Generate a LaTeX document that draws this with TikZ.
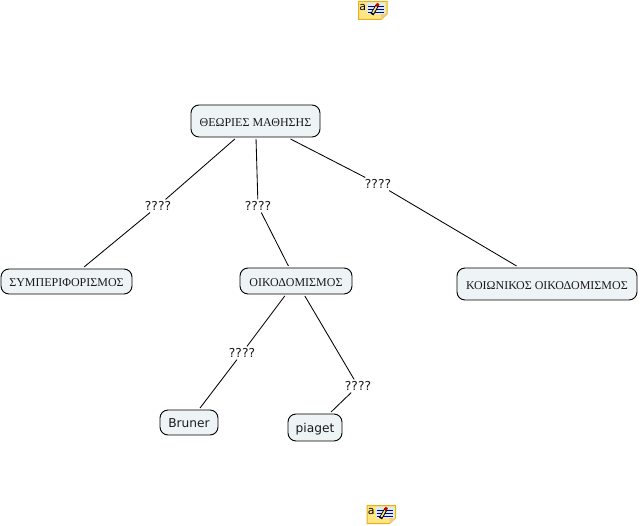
\documentclass[tikz,border=0pt]{standalone}
\usepackage{fontspec}
\setmainfont{Liberation Serif}
\newfontfamily\lblfont{DejaVu Sans}
\definecolor{conceptfill}{HTML}{EEF4F6}
\definecolor{noteyellow}{HTML}{FFE680}
\definecolor{noteedge}{HTML}{E8B020}
\definecolor{noteblue}{HTML}{D8ECFA}
\definecolor{linetxt}{HTML}{1A1A1A}
\tikzset{
  concept/.style={draw=black,line width=0.9pt,fill=conceptfill,rounded corners=8pt,inner sep=0pt,minimum height=26pt,text=linetxt,font=\fontsize{12}{14}\selectfont,outer sep=2pt,text height=11pt,text depth=0pt},
  person/.style={concept,font=\lblfont\fontsize{12.2}{14}\selectfont,text height=11.5pt,text depth=1.5pt},
  linker/.style={font=\lblfont\fontsize{12.3}{14}\selectfont,inner sep=1pt,outer sep=1pt,text=linetxt},
  conn/.style={line width=0.85pt,draw=black},
  pics/noteicon/.style={code={
    \fill[noteyellow,draw=noteedge,line width=1pt] (0.5,0.5) -- (29,0.5) -- (29,13) -- (23,18.5) -- (0.5,18.5) -- cycle;
    \fill[noteedge!60!white] (23,18.5) -- (23,13) -- (29,13) -- cycle;
    \fill[noteblue] (9,2) rectangle (27,13);
    \foreach \yy in {5,8,11}{\draw[blue!60!black,line width=0.5pt] (10,\yy) -- (26,\yy);}
    \draw[black,line width=3.4pt] (14,13.5) -- (19.5,4);
    \draw[noteyellow,line width=1.6pt] (14.8,12) -- (18.5,5.5);
    \draw[red!80!black,line width=2.8pt] (18.8,5) -- (20.3,2.5);
    \node[inner sep=0pt,font=\lblfont\fontsize{11}{12}\selectfont] at (4.8,6.2) {a};
  }}
}
\begin{document}
\begin{tikzpicture}[x=1pt,y=-1pt]
\useasboundingbox (0,0) rectangle (640,526);
\fill[white] (0,0) rectangle (640,526);
\node[concept,minimum width=129pt,minimum height=32pt] (theories) at (255.5,121) {ΘΕΩΡΙΕΣ ΜΑΘΗΣΗΣ};
\node[concept,minimum width=131pt,minimum height=25pt] (behav) at (66.5,281.5) {ΣΥΜΠΕΡΙΦΟΡΙΣΜΟΣ};
\node[concept,minimum width=112pt,minimum height=26pt] (constr) at (296,281) {ΟΙΚΟΔΟΜΙΣΜΟΣ};
\node[concept,minimum width=180pt,minimum height=32pt] (social) at (547,284) {ΚΟΙΩΝΙΚΟΣ ΟΙΚΟΔΟΜΙΣΜΟΣ};
\node[person,minimum width=58pt,minimum height=25pt] (bruner) at (189,422.5) {Bruner};
\node[person,minimum width=54pt,minimum height=27pt] (piaget) at (315,427.5) {piaget};
\node[linker] (l1) at (158,206) {????};
\node[linker] (l2) at (258,206) {????};
\node[linker] (l3) at (378,184) {????};
\node[linker] (l4) at (242,353) {????};
\node[linker] (l5) at (358,386) {????};
\draw[conn] (theories) -- (l1);
\draw[conn] (l1) -- (behav);
\draw[conn] (theories) -- (l2);
\draw[conn] (l2) -- (constr);
\draw[conn] (theories) -- (l3);
\draw[conn] (l3) -- (social);
\draw[conn] (constr) -- (l4);
\draw[conn] (l4) -- (bruner);
\draw[conn] (constr) -- (l5);
\draw[conn] (l5) -- (piaget);
\pic at (358,1) {noteicon};
\pic at (366.5,505) {noteicon};
\end{tikzpicture}
\end{document}
